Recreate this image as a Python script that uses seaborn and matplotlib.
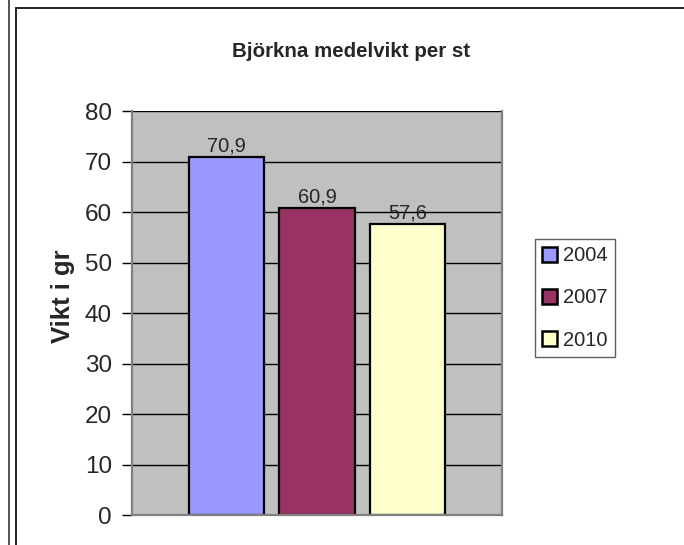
import matplotlib
matplotlib.use("Agg")
import matplotlib.pyplot as plt
import seaborn as sns
import pandas as pd
from matplotlib.lines import Line2D
from matplotlib.patches import Rectangle

# ─── Data ───────────────────────────────────────────────────────────────────
years = ["2004", "2007", "2010"]
weights = [70.9, 60.9, 57.6]
colors = ["#9999FF", "#993366", "#FFFFCC"]
y_ticks = [0, 10, 20, 30, 40, 50, 60, 70, 80]

title = "Björkna medelvikt per st"
ylabel = "Vikt i gr"

df = pd.DataFrame({"grupp": ["a"] * len(years), "år": years, "vikt": weights})

# ─── Plot ───────────────────────────────────────────────────────────────────
sns.set_style("white")
plt.rcParams["font.family"] = ["Liberation Sans", "DejaVu Sans"]

fig = plt.figure(figsize=(6.84, 5.45), dpi=100)
ax = fig.add_axes([0.193, 0.055, 0.541, 0.741])
ax.set_facecolor("#C0C0C0")

sns.barplot(data=df, x="grupp", y="vikt", hue="år", palette=colors,
            saturation=1, width=0.732, gap=0.167, edgecolor="black",
            linewidth=1.6, legend=True, ax=ax)

for cont, v in zip(ax.containers, weights):
    ax.bar_label(cont, labels=[f"{v:.1f}".replace(".", ",")],
                 padding=1, fontsize=14.4)

ax.set_xlim(-0.5, 0.5)
ax.set_ylim(0, 80)
ax.set_yticks(y_ticks)
ax.set_xticks([])
ax.set_xlabel("")
ax.set_ylabel(ylabel, fontsize=18.5, fontweight="bold")
ax.yaxis.set_label_coords(-0.155, 0.542)
ax.yaxis.grid(True, color="black", linewidth=1)
ax.set_axisbelow(True)
ax.tick_params(axis="y", left=True, length=7, width=1, color="black",
               labelsize=17.5, pad=7.5)
for s in ax.spines.values():
    s.set_color("#808080")
    s.set_linewidth(1.6)
ax.spines["top"].set_visible(False)

leg = ax.legend(loc="upper left", bbox_to_anchor=(0.782, 0.561),
                bbox_transform=fig.transFigure, fontsize=14.5,
                handlelength=0.75, handleheight=0.75, handletextpad=0.3,
                labelspacing=1.15, borderpad=0.35, borderaxespad=0,
                frameon=True, fancybox=False, framealpha=1)
leg.get_frame().set_edgecolor("#606060")
leg.get_frame().set_linewidth(1)
for h in leg.legend_handles:
    h.set_edgecolor("black")
    h.set_linewidth(1.8)

fig.text(0.513, 0.906, title, ha="center", va="center",
         fontsize=14.8, fontweight="bold")

# chart borders
fig.add_artist(Line2D([8.5 / 684, 8.5 / 684], [0, 1], color="#333333", lw=1.2))
fig.add_artist(Rectangle((15.5 / 684, -0.1), 1.0, 1 - 8.5 / 545 + 0.1,
                         transform=fig.transFigure, fill=False,
                         edgecolor="#222222", lw=1.4))

fig.savefig("out.png", dpi=100)
